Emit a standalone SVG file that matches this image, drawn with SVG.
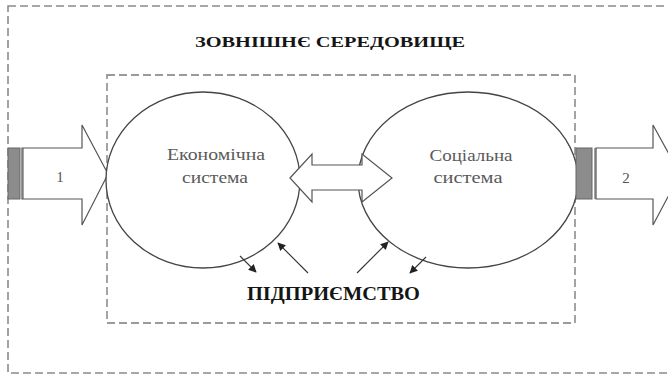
<svg xmlns="http://www.w3.org/2000/svg" width="668" height="376" viewBox="0 0 668 376">
<style>
.frame{fill:none;stroke:#8a8a8a;stroke-width:1.6;stroke-dasharray:8 4}
.inner{fill:none;stroke:#9a9a9a;stroke-width:1.8;stroke-dasharray:8 4}
.ell{fill:#fff;stroke:#444;stroke-width:1.3}
.big{fill:#fff;stroke:#555;stroke-width:1.2}
.bar{fill:#8c8c8c;stroke:#666;stroke-width:1}
.conn{fill:none;stroke:#333;stroke-width:1.1}
.hd{font-weight:bold;fill:#151515}
.lbl{fill:#5a5a5a;font-size:16px;text-anchor:middle}
.num{fill:#555;font-size:15px;text-anchor:middle}
</style>
<defs>
<marker id="ah" viewBox="0 0 10 10" refX="9" refY="5" markerWidth="8" markerHeight="8" orient="auto" markerUnits="userSpaceOnUse">
<path d="M0,0 L10,5 L0,10 z" fill="#222"/>
</marker>
</defs>
<g font-family="'Liberation Serif', 'DejaVu Serif', serif">
<g id="outer">
<rect class="frame" x="8" y="6" width="680" height="367"/>
<text class="hd" x="195" y="47" font-size="14" textLength="270" lengthAdjust="spacingAndGlyphs">ЗОВНІШНЄ СЕРЕДОВИЩЕ</text>
</g>
<g id="enterprise">
<rect class="inner" x="107" y="75" width="468" height="248"/>
<text class="hd" x="247" y="300" font-size="18" textLength="173" lengthAdjust="spacingAndGlyphs">ПІДПРИЄМСТВО</text>
</g>
<g id="arrow1">
<path class="big" d="M22,148 L82,148 L82,125 L108,174 L82,225 L82,199 L22,199 z"/>
<rect class="bar" x="8" y="148" width="12" height="51"/>
<line x1="23" y1="148" x2="23" y2="199" stroke="#666" stroke-width="1.2"/>
<text class="num" x="60" y="182">1</text>
</g>
<g id="economic">
<ellipse class="ell" cx="203" cy="180" rx="97" ry="88"/>
<text class="lbl" x="216" y="160" textLength="98" lengthAdjust="spacingAndGlyphs">Економічна</text>
<text class="lbl" x="215" y="183" textLength="66" lengthAdjust="spacingAndGlyphs">система</text>
</g>
<g id="social">
<ellipse class="ell" cx="468" cy="180" rx="110" ry="88"/>
<text class="lbl" x="471" y="161" textLength="83" lengthAdjust="spacingAndGlyphs">Соціальна</text>
<text class="lbl" x="468" y="183" textLength="69" lengthAdjust="spacingAndGlyphs">система</text>
</g>
<g id="arrow2">
<path class="big" d="M596,148 L653,148 L653,125 L680,174 L653,225 L653,199 L596,199 z"/>
<rect class="bar" x="576" y="148" width="16" height="51"/>
<line x1="595" y1="148" x2="595" y2="199" stroke="#666" stroke-width="1.2"/>
<text class="num" x="626" y="183">2</text>
</g>
<g id="connectors">
<path class="big" d="M290,178 L312,154 L312,165 L362,165 L362,154 L392,178 L362,202 L362,190 L312,190 L312,202 z"/>
<line class="conn" x1="240" y1="256" x2="256" y2="272" marker-end="url(#ah)"/>
<line class="conn" x1="308" y1="273" x2="278" y2="243" marker-end="url(#ah)"/>
<line class="conn" x1="357" y1="273" x2="388" y2="242" marker-end="url(#ah)"/>
<line class="conn" x1="426" y1="257" x2="410" y2="273" marker-end="url(#ah)"/>
</g>
</g>
</svg>
